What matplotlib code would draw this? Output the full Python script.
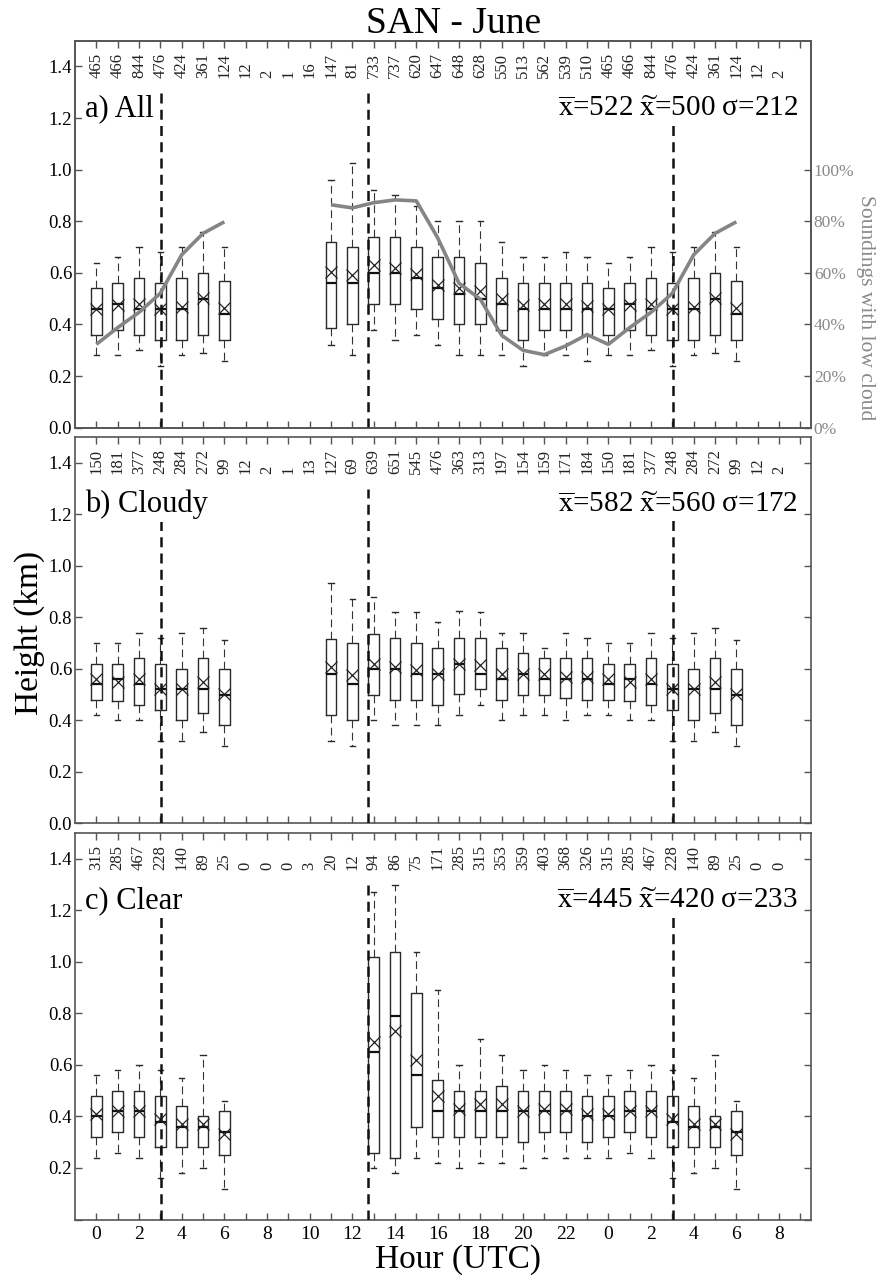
import numpy as np
import matplotlib.pyplot as plt

plt.rcParams['font.family'] = ['Liberation Serif', 'DejaVu Serif']
plt.rcParams['mathtext.fontset'] = 'stix'

# ---------------- data ----------------
hours = list(range(33))
hour_labels = [h % 24 for h in range(0, 33, 2)]

counts_all = [465, 466, 844, 476, 424, 361, 124, 12, 2, 1, 16, 147, 81, 733, 737, 620, 647,
              648, 628, 550, 513, 562, 539, 510, 465, 466, 844, 476, 424, 361, 124, 12, 2]
counts_cloudy = [150, 181, 377, 248, 284, 272, 99, 12, 2, 1, 13, 127, 69, 639, 651, 545, 476,
                 363, 313, 197, 154, 159, 171, 184, 150, 181, 377, 248, 284, 272, 99, 12, 2]
counts_clear = [315, 285, 467, 228, 140, 89, 25, 0, 0, 0, 3, 20, 12, 94, 86, 75, 171,
                285, 315, 353, 359, 403, 368, 326, 315, 285, 467, 228, 140, 89, 25, 0, 0]

# percentage of soundings with low cloud (panel a, right axis)
pct_cloud = [32.3, 38.8, 44.7, 52.1, 67.0, 75.3, 79.8, None, None, None, None, 86.4, 85.2,
             87.2, 88.3, 87.9, 73.6, 56.0, 49.8, 35.8, 30.0, 28.3, 31.7, 36.1,
             32.3, 38.8, 44.7, 52.1, 67.0, 75.3, 79.8, None, None]

N = None
# panel a) All : whisker low, q1, median, q3, whisker high, mean
a_wlo = [0.28, 0.28, 0.30, 0.24, 0.28, 0.29, 0.26, N, N, N, N, 0.32, 0.28, 0.38, 0.34, 0.36, 0.32,
         0.28, 0.28, 0.28, 0.24, 0.28, 0.28, 0.26, 0.28, 0.28, 0.30, 0.24, 0.28, 0.29, 0.26, N, N]
a_q1 = [0.36, 0.38, 0.36, 0.34, 0.34, 0.36, 0.34, N, N, N, N, 0.385, 0.40, 0.48, 0.48, 0.46, 0.42,
        0.40, 0.40, 0.38, 0.34, 0.38, 0.38, 0.36, 0.36, 0.38, 0.36, 0.34, 0.34, 0.36, 0.34, N, N]
a_med = [0.46, 0.48, 0.46, 0.46, 0.46, 0.50, 0.44, N, N, N, N, 0.56, 0.56, 0.60, 0.60, 0.58, 0.54,
         0.52, 0.50, 0.48, 0.46, 0.46, 0.46, 0.46, 0.46, 0.48, 0.46, 0.46, 0.46, 0.50, 0.44, N, N]
a_q3 = [0.54, 0.56, 0.58, 0.56, 0.58, 0.60, 0.57, N, N, N, N, 0.72, 0.70, 0.74, 0.74, 0.70, 0.66,
        0.66, 0.64, 0.58, 0.56, 0.56, 0.56, 0.56, 0.54, 0.56, 0.58, 0.56, 0.58, 0.60, 0.57, N, N]
a_whi = [0.64, 0.66, 0.70, 0.68, 0.70, 0.76, 0.70, N, N, N, N, 0.96, 1.026, 0.92, 0.90, 0.86, 0.80,
         0.80, 0.80, 0.72, 0.66, 0.66, 0.68, 0.66, 0.64, 0.66, 0.70, 0.68, 0.70, 0.76, 0.70, N, N]
a_mean = [0.46, 0.475, 0.48, 0.46, 0.468, 0.503, 0.465, N, N, N, N, 0.603, 0.59, 0.63, 0.62, 0.595,
          0.555, 0.54, 0.53, 0.50, 0.475, 0.48, 0.48, 0.47, 0.46, 0.475, 0.48, 0.46, 0.468, 0.503,
          0.465, N, N]

# panel b) Cloudy
b_wlo = [0.42, 0.40, 0.40, 0.32, 0.32, 0.353, 0.30, N, N, N, N, 0.32, 0.30, 0.40, 0.38, 0.38, 0.38,
         0.42, 0.46, 0.40, 0.42, 0.42, 0.40, 0.42, 0.42, 0.40, 0.40, 0.32, 0.32, 0.353, 0.30, N, N]
b_q1 = [0.48, 0.473, 0.46, 0.44, 0.40, 0.43, 0.38, N, N, N, N, 0.42, 0.40, 0.50, 0.48, 0.48, 0.46,
        0.504, 0.52, 0.48, 0.50, 0.50, 0.485, 0.48, 0.48, 0.473, 0.46, 0.44, 0.40, 0.43, 0.38, N, N]
b_med = [0.54, 0.56, 0.54, 0.52, 0.52, 0.52, 0.50, N, N, N, N, 0.58, 0.54, 0.60, 0.60, 0.58, 0.58,
         0.62, 0.58, 0.56, 0.58, 0.56, 0.56, 0.56, 0.54, 0.56, 0.54, 0.52, 0.52, 0.52, 0.50, N, N]
b_q3 = [0.62, 0.62, 0.64, 0.62, 0.60, 0.64, 0.60, N, N, N, N, 0.715, 0.70, 0.735, 0.72, 0.70, 0.68,
        0.72, 0.72, 0.68, 0.66, 0.64, 0.64, 0.64, 0.62, 0.62, 0.64, 0.62, 0.60, 0.64, 0.60, N, N]
b_whi = [0.70, 0.70, 0.74, 0.72, 0.74, 0.76, 0.713, N, N, N, N, 0.933, 0.872, 0.88, 0.82, 0.82, 0.78,
         0.824, 0.82, 0.74, 0.74, 0.68, 0.74, 0.72, 0.70, 0.70, 0.74, 0.72, 0.74, 0.76, 0.713, N, N]
b_mean = [0.562, 0.55, 0.56, 0.523, 0.52, 0.55, 0.504, N, N, N, N, 0.607, 0.575, 0.62, 0.607, 0.597,
          0.58, 0.62, 0.614, 0.58, 0.58, 0.58, 0.568, 0.568, 0.562, 0.55, 0.56, 0.523, 0.52, 0.55,
          0.504, N, N]

# panel c) Clear
c_wlo = [0.24, 0.26, 0.24, 0.16, 0.18, 0.20, 0.12, N, N, N, N, N, N, 0.20, 0.18, 0.24, 0.22,
         0.20, 0.22, 0.22, 0.20, 0.24, 0.24, 0.24, 0.24, 0.26, 0.24, 0.16, 0.18, 0.20, 0.12, N, N]
c_q1 = [0.32, 0.34, 0.32, 0.28, 0.28, 0.28, 0.25, N, N, N, N, N, N, 0.26, 0.24, 0.36, 0.32,
        0.32, 0.32, 0.32, 0.30, 0.34, 0.34, 0.30, 0.32, 0.34, 0.32, 0.28, 0.28, 0.28, 0.25, N, N]
c_med = [0.40, 0.42, 0.42, 0.38, 0.36, 0.36, 0.34, N, N, N, N, N, N, 0.65, 0.79, 0.56, 0.42,
         0.42, 0.42, 0.42, 0.42, 0.42, 0.42, 0.40, 0.40, 0.42, 0.42, 0.38, 0.36, 0.36, 0.34, N, N]
c_q3 = [0.48, 0.50, 0.50, 0.48, 0.44, 0.40, 0.42, N, N, N, N, N, N, 1.02, 1.04, 0.88, 0.54,
        0.50, 0.50, 0.52, 0.50, 0.50, 0.50, 0.48, 0.48, 0.50, 0.50, 0.48, 0.44, 0.40, 0.42, N, N]
c_whi = [0.56, 0.58, 0.60, 0.58, 0.55, 0.64, 0.46, N, N, N, N, N, N, 1.27, 1.30, 1.04, 0.89,
         0.60, 0.70, 0.64, 0.58, 0.60, 0.58, 0.56, 0.56, 0.58, 0.60, 0.58, 0.55, 0.64, 0.46, N, N]
c_mean = [0.41, 0.42, 0.42, 0.39, 0.37, 0.37, 0.33, N, N, N, N, N, N, 0.69, 0.73, 0.62, 0.48,
          0.43, 0.45, 0.45, 0.42, 0.43, 0.43, 0.41, 0.41, 0.42, 0.42, 0.39, 0.37, 0.37, 0.33, N, N]

panel_names = ['a) All', 'b) Cloudy', 'c) Clear']
stats_text = [(522, 500, 212), (582, 560, 172), (445, 420, 233)]
sun_lines = [3.03, 12.73, 27.03]

# ---------------- figure ----------------
W, H = 877, 1276
fig = plt.figure(figsize=(W / 100, H / 100), dpi=100)
L, R = 75 / W, 811 / W
extents = [(40.7, 427.7), (437.0, 823.3), (833.0, 1219.5)]

spine_col = '#555555'
box_col = '#2a2a2a'

panels = [
    (counts_all, a_wlo, a_q1, a_med, a_q3, a_whi, a_mean),
    (counts_cloudy, b_wlo, b_q1, b_med, b_q3, b_whi, b_mean),
    (counts_clear, c_wlo, c_q1, c_med, c_q3, c_whi, c_mean),
]

for p, (top, bot) in enumerate(extents):
    ax = fig.add_axes([L, 1 - bot / H, R - L, (bot - top) / H])
    counts, wlo, q1, med, q3, whi, mean = panels[p]
    stats, pos = [], []
    for h in hours:
        if med[h] is None:
            continue
        stats.append(dict(med=med[h], q1=q1[h], q3=q3[h], whislo=wlo[h], whishi=whi[h],
                          mean=mean[h], fliers=[]))
        pos.append(h)
    ax.bxp(stats, positions=pos, widths=0.5, capwidths=0.25, showmeans=True,
           showfliers=False, manage_ticks=False,
           boxprops=dict(color=box_col, linewidth=1.0),
           whiskerprops=dict(color='#333333', linewidth=0.8, linestyle=(0, (7, 4))),
           capprops=dict(color=box_col, linewidth=1.0),
           medianprops=dict(color='#111111', linewidth=1.6),
           meanprops=dict(marker='x', markeredgecolor='#222222', markerfacecolor='none',
                          markersize=8.5, markeredgewidth=0.9))

    ax.vlines(sun_lines, 0, 1.3, colors='#111111', linewidth=1.8,
              linestyles=[(0, (4, 2.5))], zorder=4)

    for h in hours:
        ax.text(h, 1.355, str(counts[h]), rotation=90, ha='center', va='bottom',
                fontsize=12, color='#222222')

    ax.text(0.0136, 0.805, panel_names[p], transform=ax.transAxes, fontsize=22,
            ha='left', va='baseline', zorder=6,
            bbox=dict(facecolor='white', edgecolor='none', pad=2))
    m, md, sd = stats_text[p]
    ax.text(0.982, 0.805, r'$\overline{\mathrm{x}}$' + f'={m} ' + r'$\widetilde{\mathrm{x}}$'
            + f'={md} σ={sd}', transform=ax.transAxes, fontsize=21, ha='right',
            va='baseline', zorder=6, bbox=dict(facecolor='white', edgecolor='none', pad=2))

    ax.set_xlim(-1, 33.5)
    ax.set_ylim(0, 1.5)
    ax.set_xticks(range(0, 33, 2))
    ax.set_xticks(range(1, 34, 2), minor=True)
    if p == 2:
        ax.set_xticklabels([str(v) for v in hour_labels])
        ax.set_yticks([0.2, 0.4, 0.6, 0.8, 1.0, 1.2, 1.4])
        ax.set_yticks([0.0], minor=True)
    else:
        ax.set_xticklabels([])
        ax.set_yticks([0.0, 0.2, 0.4, 0.6, 0.8, 1.0, 1.2, 1.4])
    ax.yaxis.set_major_formatter(plt.FuncFormatter(lambda v, _: f'{v:.1f}'))
    ax.tick_params(axis='both', which='both', direction='in', length=5, width=1.0,
                   color=spine_col, top=True, right=True)
    ax.tick_params(axis='x', labelsize=14, pad=5)
    ax.tick_params(axis='y', labelsize=13.5, pad=2)
    for s in ax.spines.values():
        s.set_color(spine_col)
        s.set_linewidth(1.2)

    if p == 0:
        ax2 = ax.twinx()
        ax2.set_ylim(0, 150)
        ax2.plot(hours, [np.nan if v is None else v for v in pct_cloud], color='#858585',
                 linewidth=2.6, solid_capstyle='butt', zorder=5)
        ax2.set_yticks([0, 20, 40, 60, 80, 100])
        ax2.set_yticklabels([f'{v}%' for v in [0, 20, 40, 60, 80, 100]])
        ax2.tick_params(axis='y', direction='in', length=5, width=1.0, color=spine_col,
                        labelsize=12.5, labelcolor='#8a8a8a', pad=2)
        ax2.set_ylabel('Soundings with low cloud', rotation=270, fontsize=15.5,
                       color='#8a8a8a', va='center', ha='center')
        ax2.yaxis.set_label_coords(1.0747, 0.31)
        for s in ax2.spines.values():
            s.set_color(spine_col)
            s.set_linewidth(1.2)

fig.text(454 / W, 1 - 33 / H, 'SAN - June', fontsize=27, ha='center', va='baseline')
fig.text(458 / W, 1 - 1268 / H, 'Hour (UTC)', fontsize=24, ha='center', va='baseline')
fig.text(30 / W, 1 - 633 / H, 'Height (km)', fontsize=24, ha='center', va='center',
         rotation=90)

fig.savefig('out.png', dpi=100)
